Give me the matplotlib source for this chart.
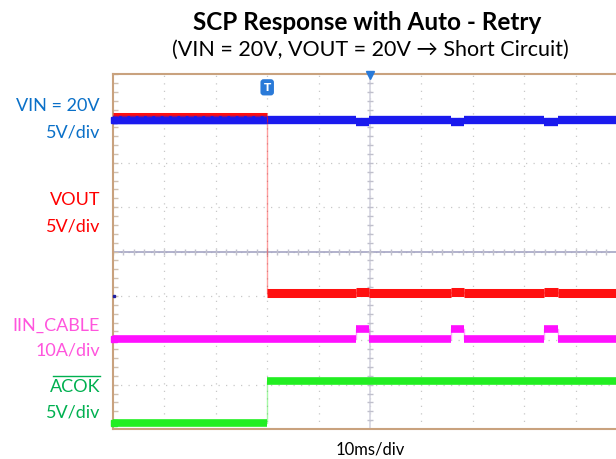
import numpy as np
import matplotlib.pyplot as plt

# Oscilloscope capture, x in ms (10 ms/div), y in divisions (0..8)
vin_t = [0, 47.3, 49.8, 65.8, 68.3, 83.9, 86.6, 100]
vin_v = [6.96, 6.91, 6.96, 6.91, 6.96, 6.91, 6.96, 6.96]

vout_t = [0, 30.0, 47.3, 49.8, 65.8, 68.3, 83.9, 86.6, 100]
vout_v = [7.03, 3.06, 3.085, 3.06, 3.085, 3.06, 3.085, 3.06, 3.06]

iin_t = [0, 47.3, 49.8, 65.8, 68.3, 83.9, 86.6, 100]
iin_v = [2.02, 2.26, 2.02, 2.26, 2.02, 2.26, 2.02, 2.02]

acok_t = [0, 30.0, 100]
acok_v = [0.14, 1.08, 1.08]

c_vin = "#1a1aee"
c_vout = "#ff1010"
c_iin = "#ff10ff"
c_acok = "#22ee22"
frame = "#c9a27e"

fig = plt.figure(figsize=(6.16, 4.6), dpi=100)
ax = fig.add_axes([113 / 616, 30 / 460, 514 / 616, 355 / 460])
ax.set_xlim(0, 100)
ax.set_ylim(0, 8)

# grid
for gx in np.arange(10, 100, 10):
    ax.axvline(gx, color="#c8c8c8", lw=0.9, ls=(0, (1, 5)), zorder=0)
for gy in np.arange(1, 8, 1):
    ax.axhline(gy, color="#c8c8c8", lw=0.9, ls=(0, (1, 5)), zorder=0)
ax.axhline(4, color="#a4a4c4", lw=1.2, zorder=1)
ax.axvline(50, color="#d4d4e0", lw=1.2, zorder=1)
mt = np.arange(0, 100.01, 2)
ax.plot(mt, np.full(mt.size, 4), ls="none", marker="|", ms=5, color="#c0c0cc", zorder=1)
my = np.arange(0, 8.01, 0.2)
ax.plot(np.full(my.size, 50), my, ls="none", marker="_", ms=5, color="#c0c0cc", zorder=1)
ax.plot(np.full(my.size, 0.3), my, ls="none", marker="_", ms=4, color="#d0c0b0", zorder=1)

# traces
for t, v, c, lw in [(acok_t, acok_v, c_acok, 5.5), (iin_t, iin_v, c_iin, 5.5),
                    (vin_t, vin_v, c_vin, 6.0), (vout_t, vout_v, c_vout, 6.5)]:
    ax.step(t, v, where="post", color=c, lw=1.0, alpha=0.4, zorder=3)
    ax.hlines(v[:-1], t[:-1], t[1:], color=c, lw=lw, zorder=3)
# red trace hidden under blue before the trigger
ax.hlines(vin_v[0], 0, 30, color=c_vin, lw=6.0, zorder=4)
ax.hlines(vout_v[0] + 0.03, 0, 30, color=c_vout, lw=1.0, alpha=0.45, ls=(0, (4, 2)), zorder=5)

# channel markers and trigger
ax.plot([0.2], [vin_v[0]], ls="none", marker="s", ms=4, color=c_vin, clip_on=False, zorder=6)
ax.plot([0.2], [3.0], ls="none", marker="s", ms=2, color="#2020a0", clip_on=False, zorder=6)
ax.plot([0.2], [iin_v[0]], ls="none", marker="s", ms=4, color=c_iin, clip_on=False, zorder=7)
ax.plot([0.2], [acok_v[0]], ls="none", marker="s", ms=4, color=c_acok, clip_on=False, zorder=7)
ax.plot([50], [7.98], marker="v", ms=6, color="#2a7ad8", clip_on=False, zorder=6)
ax.text(30, 7.7, "T", color="white", fontsize=7.5, fontweight="bold", ha="center", va="center",
        bbox=dict(boxstyle="round,pad=0.3", fc="#2a7ad8", ec="none"), zorder=6)

ax.set_xticks([])
ax.set_yticks([])
for s in ["left", "top", "bottom"]:
    ax.spines[s].set_color(frame)
    ax.spines[s].set_linewidth(1.5)
ax.spines["right"].set_visible(False)

# texts
fnt = "Lato"
fig.text(367 / 616, 1 - 22 / 460, "SCP Response with Auto - Retry", ha="center", va="center",
         fontsize=17.5, fontweight="bold", family=fnt)
fig.text(370 / 616, 1 - 50 / 460, "(VIN = 20V, VOUT = 20V \u2192 Short Circuit)", ha="center",
         va="center", fontsize=15.5, family=[fnt, "DejaVu Sans"])

labels = [("VIN = 20V", 106, "#0a70c8"), ("5V/div", 132, "#0a70c8"),
          ("VOUT", 200, "#ff0000"), ("5V/div", 226, "#ff0000"),
          ("IIN_CABLE", 326, "#ff55dd"), ("10A/div", 351, "#ff55dd"),
          ("ACOK", 387, "#00b050"), ("5V/div", 412, "#00b050")]
for txt, y, c in labels:
    fig.text(100 / 616, 1 - y / 460, txt, ha="right", va="center", fontsize=13, color=c, family=fnt)
# overline for ACOK
fig.add_artist(plt.Line2D([53 / 616, 100 / 616], [1 - 377 / 460, 1 - 377 / 460], color="#00b050", lw=1))

fig.text(370 / 616, 1 - 450 / 460, "10ms/div", ha="center", va="center", fontsize=12, family=fnt)

fig.savefig("out.png", dpi=100)
